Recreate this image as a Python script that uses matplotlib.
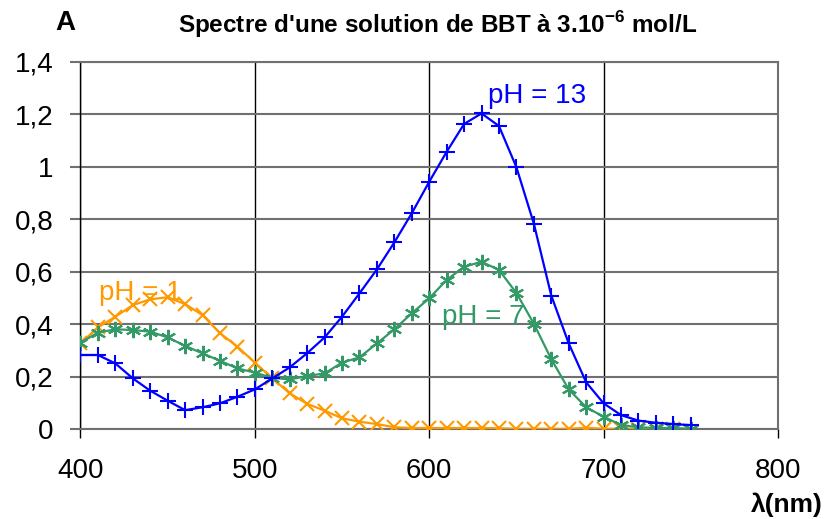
import numpy as np
import matplotlib
matplotlib.use("Agg")
import matplotlib.pyplot as plt
from matplotlib.ticker import FuncFormatter

plt.rcParams.update({
    "font.family": ["Liberation Sans", "DejaVu Sans"],
    "mathtext.fontset": "custom",
    "mathtext.rm": "Liberation Sans",
    "mathtext.bf": "Liberation Sans:bold",
})

# longueurs d'onde (nm)
wl = np.arange(400, 760, 10)
wl_acid = np.arange(400, 750, 10)

# pH = 13
abs_ph13 = [0.283, 0.283, 0.251, 0.194, 0.147, 0.109, 0.073, 0.084, 0.099, 0.124,
            0.152, 0.194, 0.236, 0.290, 0.350, 0.429, 0.518, 0.609, 0.712, 0.823,
            0.943, 1.057, 1.163, 1.203, 1.155, 0.998, 0.783, 0.509, 0.327, 0.179,
            0.099, 0.054, 0.033, 0.025, 0.020, 0.016]
# pH = 7
abs_ph7 = [0.330, 0.368, 0.381, 0.378, 0.372, 0.350, 0.318, 0.289, 0.261, 0.232,
           0.216, 0.196, 0.190, 0.203, 0.213, 0.254, 0.274, 0.327, 0.381, 0.442,
           0.499, 0.569, 0.619, 0.638, 0.607, 0.519, 0.402, 0.267, 0.152, 0.084,
           0.048, 0.016, 0.008, 0.005, 0.005, 0.002]
# pH = 1
abs_ph1 = [0.327, 0.388, 0.429, 0.473, 0.495, 0.503, 0.477, 0.435, 0.366, 0.315,
           0.254, 0.194, 0.137, 0.097, 0.071, 0.042, 0.029, 0.020, 0.008, 0.005,
           0.005, 0.005, 0.005, 0.005, 0.004, 0.002, 0.002, 0.002, 0.002, 0.006,
           0.002, 0.002, 0.002, 0.002, 0.002]

blue = '#0000FF'
green = '#339966'
orange = '#FF9900'

fig = plt.figure(figsize=(8.28, 5.19), dpi=100)
ax = fig.add_axes([0.0972, 0.1728, 0.8424, 0.7083])

ax.plot(wl_acid, abs_ph1, color=orange, lw=1.6, marker='x', ms=10, mew=1.5, zorder=3)
ax.plot(wl, abs_ph7, color=green, lw=1.6, marker=(6, 2, 0), ms=11, mew=1.5, zorder=4)
ax.plot(wl, abs_ph13, color=blue, lw=1.6, marker='+', ms=12, mew=1.5, zorder=5)

ax.set_xlim(400, 800)
ax.set_ylim(0, 1.4)
ax.set_xticks([400, 500, 600, 700, 800])
ax.set_yticks(np.arange(0, 1.41, 0.2))
ax.yaxis.set_major_formatter(FuncFormatter(lambda v, p: ('%g' % round(v, 1)).replace('.', ',')))

ax.grid(axis='y', color='#707070', lw=1.5, zorder=1)
ax.grid(axis='x', color='black', lw=1.0, zorder=1)
for s in ['top', 'right', 'bottom']:
    ax.spines[s].set_color('#707070')
    ax.spines[s].set_linewidth(1.5)
ax.spines['left'].set_color('black')
ax.spines['left'].set_linewidth(1.0)
ax.tick_params(axis='y', length=7.5, width=1.5, color='#707070', labelsize=20, pad=12)
ax.tick_params(axis='x', length=6.5, width=1.0, color='black', labelsize=20, pad=14)

ax.text(633.7, 1.241, 'pH = 13', color=blue, fontsize=20, va='baseline')
ax.text(410.8, 0.492, 'pH = 1', color=orange, fontsize=20, va='baseline')
ax.text(607.6, 0.401, 'pH = 7', color=green, fontsize=20, va='baseline')

fig.text(0.0664, 0.942, 'A', fontsize=20, fontweight='bold', ha='left', va='baseline')
fig.text(0.529, 0.936, "Spectre d'une solution de BBT à 3.10$^{\\mathbf{-6}}$ mol/L",
         fontsize=17.5, fontweight='bold', ha='center', va='baseline')
fig.text(0.994, 0.014, 'λ(nm)', fontsize=19, fontweight='bold', ha='right', va='baseline')

fig.savefig('out.png', dpi=100)
